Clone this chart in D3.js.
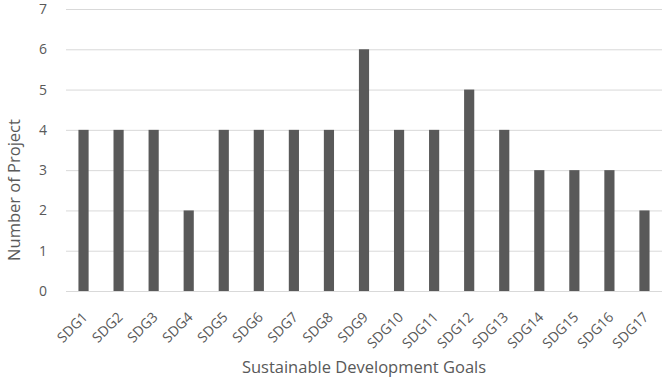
<!DOCTYPE html>
<html lang="en">
<head>
<meta charset="utf-8">
<title>Projects per SDG</title>
<script src="https://d3js.org/d3.v7.min.js"></script>
<style>
  html, body { margin: 0; padding: 0; background: #fff; }
  svg { display: block; font-family: "Open Sans", "Noto Sans", sans-serif; }
  .grid line { stroke: #d9d9d9; stroke-width: 1; }
</style>
</head>
<body>
<svg id="chart"></svg>
<script>
// data
const goals = ["SDG1","SDG2","SDG3","SDG4","SDG5","SDG6","SDG7","SDG8","SDG9",
               "SDG10","SDG11","SDG12","SDG13","SDG14","SDG15","SDG16","SDG17"];
const projects = [4,4,4,2,4,4,4,4,6,4,4,5,4,3,3,3,2];
const yTicks = [0,1,2,3,4,5,6,7];

const width = 664, height = 381;
const margin = { top: 9, right: 2, bottom: 90, left: 66 };

const svg = d3.select("#chart").attr("width", width).attr("height", height);

const x = d3.scaleBand()
  .domain(goals)
  .range([margin.left, width - margin.right])
  .paddingInner(0.71)
  .paddingOuter(0.355);

const y = d3.scaleLinear()
  .domain([0, 7])
  .range([height - margin.bottom, margin.top]);

// gridlines
svg.append("g")
  .attr("class", "grid")
  .selectAll("line")
  .data(yTicks)
  .join("line")
  .attr("x1", margin.left)
  .attr("x2", width - margin.right)
  .attr("y1", d => y(d) + 0.5)
  .attr("y2", d => y(d) + 0.5);

// y axis labels
const yAxis = svg.append("g")
  .attr("transform", `translate(${margin.left}, 0)`)
  .call(d3.axisLeft(y).tickValues(yTicks).tickFormat(d3.format("d")).tickSize(0).tickPadding(19));
yAxis.select(".domain").remove();
yAxis.selectAll("text")
  .style("font-size", "14px")
  .style("fill", "#595959")
  .style("font-family", "'Open Sans', sans-serif");

// bars
svg.append("g")
  .selectAll("rect")
  .data(goals)
  .join("rect")
  .attr("x", d => x(d))
  .attr("width", x.bandwidth())
  .attr("y", (d, i) => y(projects[i]))
  .attr("height", (d, i) => y(0) - y(projects[i]))
  .attr("fill", "#595959");

// x axis labels
const xAxis = svg.append("g")
  .attr("transform", `translate(0, ${y(0)})`)
  .call(d3.axisBottom(x).tickSize(0));
xAxis.select(".domain").remove();
xAxis.selectAll("text")
  .style("font-size", "14px")
  .style("fill", "#595959")
  .style("font-family", "'Open Sans', sans-serif")
  .attr("text-anchor", "end")
  .attr("x", 0)
  .attr("y", 0)
  .attr("dy", null)
  .attr("transform", "translate(5, 27) rotate(-45)");

// axis titles
svg.append("text")
  .attr("x", (margin.left + width - margin.right) / 2)
  .attr("y", 373)
  .attr("text-anchor", "middle")
  .style("font-size", "16.5px")
  .style("fill", "#595959")
  .text("Sustainable Development Goals");

svg.append("text")
  .attr("transform", `translate(20, 190) rotate(-90)`)
  .attr("text-anchor", "middle")
  .style("font-size", "16.5px")
  .style("fill", "#595959")
  .text("Number of Project");
</script>
</body>
</html>
